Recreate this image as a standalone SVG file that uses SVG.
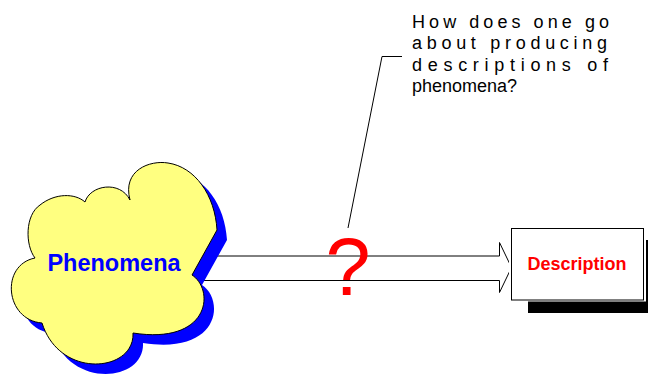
<svg xmlns="http://www.w3.org/2000/svg" width="648" height="377" viewBox="0 0 648 377">
<style>
.ln{fill:none;stroke:#000;stroke-width:1}
.q{font-family:"Liberation Sans",Arial,sans-serif;font-size:18px;fill:#000}
</style>
<defs>
<path id="cloudShape" d="M85,202 C90,185 120,180 130,200 C122,170 150,160 168,163 C195,167 215,195 217,230 L192,275 C215,290 210,345 133,333 C135,372 60,380 42,323 C5,320 0,265 35,258 C25,245 25,215 40,205 C55,193 75,193 85,202 Z"/>
</defs>
<rect width="648" height="377" fill="#fff"/>
<g id="connectors">
<polygon class="ln" fill="#fff" points="195,256 499.5,256 499.5,242.5 511.5,267.5 499.5,292.5 499.5,280.5 195,280.5" style="fill:#fff"/>
<polyline class="ln" points="348,228 382,56.5 402,56.5"/>
</g>
<g id="phenomena">
<use href="#cloudShape" transform="translate(10,10)" fill="#0000ff"/>
<use href="#cloudShape" fill="#ffff80" stroke="#000" stroke-width="1"/>
<text x="114" y="271" text-anchor="middle" font-family="Liberation Sans, Arial, sans-serif" font-weight="bold" font-size="23.5" fill="#0000ff">Phenomena</text>
</g>
<g id="description">
<rect x="528" y="240" width="130" height="73" fill="#000"/>
<rect x="509" y="226" width="137" height="75.5" fill="#fff"/>
<rect x="511.5" y="228.5" width="132" height="71.5" fill="#fff" stroke="#000" stroke-width="1"/>
<text x="577" y="269.5" text-anchor="middle" font-family="Liberation Sans, Arial, sans-serif" font-weight="bold" font-size="18" fill="#ff0000">Description</text>
</g>
<g id="question-mark">
<text x="348" y="295" text-anchor="middle" font-family="Liberation Sans, Arial, sans-serif" font-size="81" fill="#ff0000">?</text>
</g>
<g id="question-note">
<text class="q" x="412" y="27.5" textLength="197" lengthAdjust="spacing">How does one go</text>
<text class="q" x="412" y="49" textLength="195" lengthAdjust="spacing">about producing</text>
<text class="q" x="412" y="70.7" textLength="196" lengthAdjust="spacing">descriptions of</text>
<text class="q" x="412" y="92.4">phenomena?</text>
</g>
</svg>
